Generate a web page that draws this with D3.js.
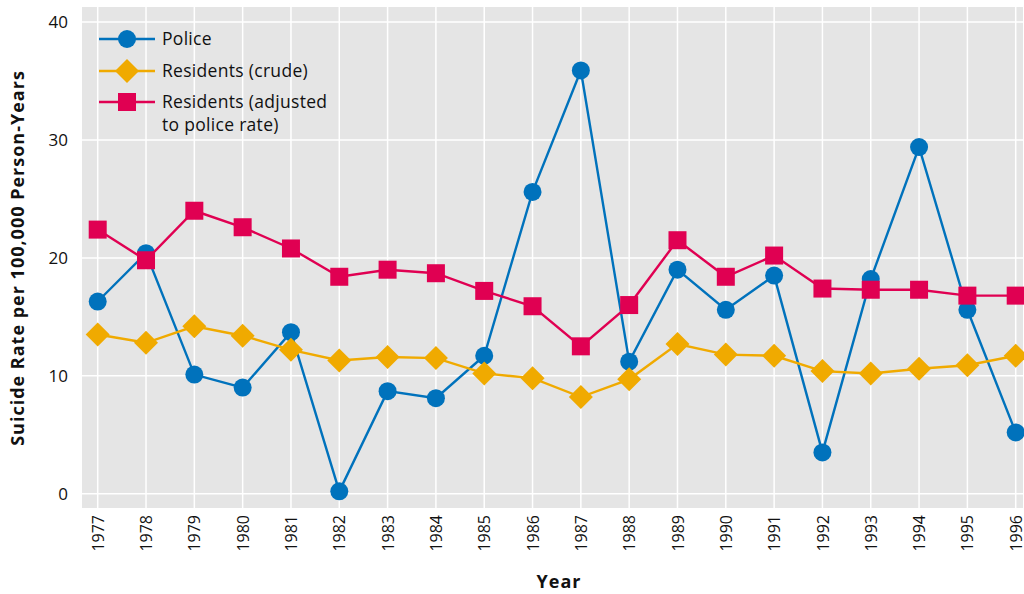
<!DOCTYPE html>
<html>
<head>
<meta charset="utf-8">
<script src="https://cdn.jsdelivr.net/npm/d3@7"></script>
<style>
  body { margin: 0; background: #fff; }
  svg text { font-family: "Open Sans", "Noto Sans", sans-serif; fill: #111; }
</style>
</head>
<body>
<div id="container"></div>
<script>
var years = [1977, 1978, 1979, 1980, 1981, 1982, 1983, 1984, 1985, 1986,
  1987, 1988, 1989, 1990, 1991, 1992, 1993, 1994, 1995, 1996]
var police = [16.3, 20.4, 10.1, 9.0, 13.7, 0.2, 8.7, 8.1, 11.7, 25.6,
  35.9, 11.2, 19.0, 15.6, 18.5, 3.5, 18.2, 29.4, 15.6, 5.2]
var crude = [13.5, 12.8, 14.2, 13.4, 12.2, 11.3, 11.6, 11.5, 10.2, 9.8,
  8.2, 9.7, 12.7, 11.8, 11.7, 10.4, 10.2, 10.6, 10.9, 11.7]
var adjusted = [22.4, 19.8, 24.0, 22.6, 20.8, 18.4, 19.0, 18.7, 17.2, 15.9,
  12.5, 16.0, 21.5, 18.4, 20.2, 17.4, 17.3, 17.3, 16.8, 16.8]
var yTicks = [0, 10, 20, 30, 40]
var seriesNames = ['Police', 'Residents (crude)', 'Residents (adjusted|to police rate)']

var width = 1024, height = 594
var pLeft = 82, pRight = 1023, pTop = 7, pBottom = 508

var svg = d3.select('#container').append('svg')
  .attr('width', width).attr('height', height)

var x = d3.scalePoint().domain(years).range([97.7, 1015.7])
var y = d3.scaleLinear().domain([0, 40]).range([493.7, 22.1])

// panel
svg.append('rect')
  .attr('x', pLeft).attr('y', pTop)
  .attr('width', pRight - pLeft).attr('height', pBottom - pTop)
  .attr('fill', '#e5e5e5')

// grid
svg.append('g').selectAll('line').data(years).enter().append('line')
  .attr('x1', function (d) { return x(d) }).attr('x2', function (d) { return x(d) })
  .attr('y1', pTop).attr('y2', pBottom)
  .attr('stroke', '#fff').attr('stroke-width', 1.5)
svg.append('g').selectAll('line').data(yTicks).enter().append('line')
  .attr('x1', pLeft).attr('x2', pRight)
  .attr('y1', function (d) { return y(d) }).attr('y2', function (d) { return y(d) })
  .attr('stroke', '#fff').attr('stroke-width', 1.5)

// axes
var yAxis = svg.append('g').attr('transform', 'translate(' + pLeft + ',0)')
  .call(d3.axisLeft(y).tickValues(yTicks).tickSize(0).tickPadding(14))
yAxis.select('.domain').remove()
yAxis.selectAll('text').style('font-size', '17px')

var xAxis = svg.append('g').attr('transform', 'translate(0,' + pBottom + ')')
  .call(d3.axisBottom(x).tickSize(0).tickFormat(d3.format('d')))
xAxis.select('.domain').remove()
xAxis.selectAll('text')
  .style('font-size', '16px')
  .attr('transform', 'rotate(-90)')
  .attr('text-anchor', 'end')
  .attr('x', -7).attr('y', 0).attr('dy', '0.35em')

svg.append('text')
  .attr('transform', 'translate(24,' + 258 + ') rotate(-90)')
  .attr('text-anchor', 'middle')
  .style('font-size', '18px').style('font-weight', 'bold')
  .style('letter-spacing', '1px')
  .text('Suicide Rate per 100,000 Person-Years')
svg.append('text')
  .attr('x', 559).attr('y', 588)
  .attr('text-anchor', 'middle')
  .style('font-size', '18px').style('font-weight', 'bold')
  .style('letter-spacing', '1px')
  .text('Year')

var colors = ['#0072bc', '#f0aa00', '#e00052']

function drawMarker(g, kind, color) {
  if (kind === 0) {
    g.append('circle').attr('r', 9).attr('fill', color)
  } else if (kind === 1) {
    g.append('path').attr('d', 'M0,-12L12,0L0,12L-12,0Z').attr('fill', color)
  } else {
    g.append('rect').attr('x', -9).attr('y', -9).attr('width', 18).attr('height', 18).attr('fill', color)
  }
}

var line = d3.line()
  .x(function (d, i) { return x(years[i]) })
  .y(function (d) { return y(d) })

;[police, crude, adjusted].forEach(function (vals, k) {
  var g = svg.append('g')
  g.append('path').datum(vals).attr('d', line)
    .attr('fill', 'none').attr('stroke', colors[k]).attr('stroke-width', 2.4)
  g.selectAll('g').data(vals).enter().append('g')
    .attr('transform', function (d, i) { return 'translate(' + x(years[i]) + ',' + y(d) + ')' })
    .each(function () { drawMarker(d3.select(this), k, colors[k]) })
})

// legend
var legendY = [39, 71, 102]
seriesNames.forEach(function (name, k) {
  var g = svg.append('g').attr('transform', 'translate(0,' + legendY[k] + ')')
  g.append('line').attr('x1', 99).attr('x2', 155).attr('y1', 0).attr('y2', 0)
    .attr('stroke', colors[k]).attr('stroke-width', 2.4)
  var m = g.append('g').attr('transform', 'translate(127,0)')
  drawMarker(m, k, colors[k])
  var t = g.append('text').attr('x', 162).attr('y', 0)
    .style('font-size', '17.5px').style('letter-spacing', '0.3px')
  name.split('|').forEach(function (part, j) {
    t.append('tspan').attr('x', 162).attr('dy', j === 0 ? '0.35em' : '23').text(part)
  })
})
</script>
</body>
</html>
